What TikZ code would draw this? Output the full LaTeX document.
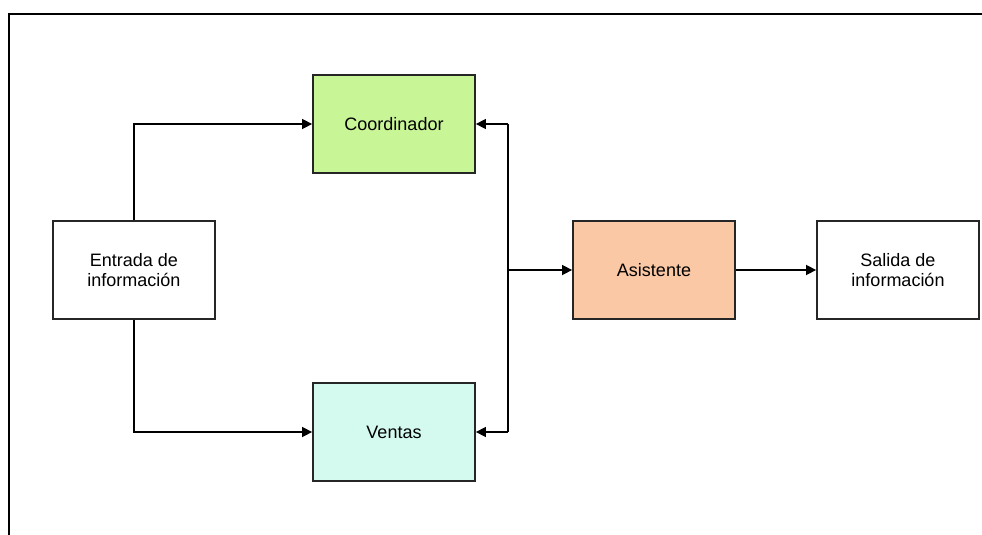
\documentclass[tikz,border=0pt]{standalone}
\usepackage{fontspec}
\setmainfont{Liberation Sans}
\usetikzlibrary{arrows.meta}
\definecolor{cgreen}{RGB}{200,245,150}
\definecolor{cpeach}{RGB}{250,200,165}
\definecolor{ccyan}{RGB}{212,250,240}
\tikzset{
  blk/.style={draw=black!85, line width=1.8pt, minimum width=162pt, minimum height=98pt, inner sep=0pt, align=center, font=\fontsize{18}{20}\selectfont},
  conn/.style={line width=1.5pt, -{Triangle[length=10pt,width=10pt]}},
  plain/.style={line width=1.5pt},
}
\begin{document}
\begin{tikzpicture}[x=1pt,y=-1pt]
\useasboundingbox (0,0) rectangle (982,535);
\draw[line width=2.5pt] (9,535) -- (9,14) -- (982,14);
\node[blk, fill=white] (ent) at (134,270) {Entrada de\\información};
\node[blk, fill=cgreen] (coo) at (394,124) {Coordinador};
\node[blk, fill=ccyan] (ven) at (394,432) {Ventas};
\node[blk, fill=cpeach] (asi) at (654,270) {Asistente};
\node[blk, fill=white] (sal) at (898,270) {Salida de\\información};
\coordinate (t) at (508,124);
\coordinate (b) at (508,432);
\coordinate (m) at (508,270);
\draw[conn] (ent.north) |- (coo.west);
\draw[conn] (ent.south) |- (ven.west);
\draw[plain] (t) -- (b);
\draw[conn] (t) -- (coo.east);
\draw[conn] (b) -- (ven.east);
\draw[conn] (m) -- (asi.west);
\draw[conn] (asi.east) -- (sal.west);
\end{tikzpicture}
\end{document}
